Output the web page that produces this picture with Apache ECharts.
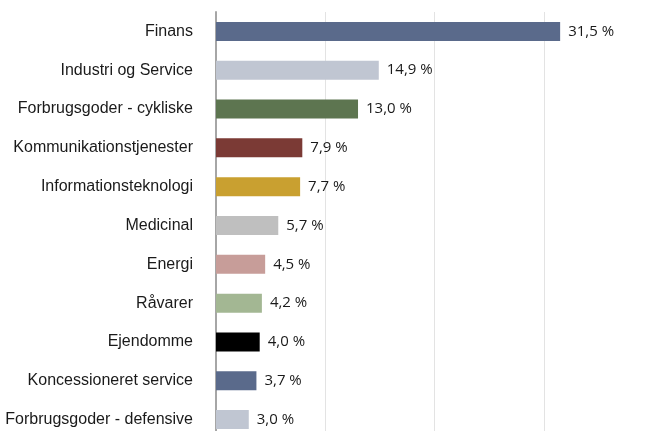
<!DOCTYPE html>
<html lang="da">
<head>
<meta charset="utf-8">
<title>Sektorfordeling</title>
<script src="https://cdn.jsdelivr.net/npm/echarts@6/dist/echarts.min.js"></script>
<style>
html,body{margin:0;padding:0;background:#fff;}
#chart{width:651px;height:431px;}
</style>
</head>
<body>
<div id="chart"></div>
<script>
// sektorer (top til bund) og vægte i %
var sectors = ['Finans','Industri og Service','Forbrugsgoder - cykliske','Kommunikationstjenester','Informationsteknologi','Medicinal','Energi','Råvarer','Ejendomme','Koncessioneret service','Forbrugsgoder - defensive'];
var weights = [31.5,14.9,13.0,7.9,7.7,5.7,4.5,4.2,4.0,3.7,3.0];
var colors = ['#5a6a8b','#c0c6d2','#5d7550','#7b3a35','#c9a030','#bfbfbf','#c79d99','#a3b793','#000000','#5a6a8b','#c0c6d2'];

var chart = echarts.init(document.getElementById('chart'));
chart.setOption({
    animation: false,
    // plotområdet går lidt ud over kanten til højre og nederst
    grid: {left: 216, top: 12, width: 437, height: 427, outerBoundsMode: 'none'},
    xAxis: {
        type: 'value',
        min: 0,
        max: 40,
        interval: 10,
        axisLine: {show: false},
        axisTick: {show: false},
        axisLabel: {show: false},
        splitLine: {lineStyle: {color: '#e3e3e3', width: 1}}
    },
    yAxis: {
        type: 'category',
        inverse: true,
        data: sectors,
        axisTick: {show: false},
        axisLine: {lineStyle: {color: '#a6a6a6', width: 2}},
        axisLabel: {
            margin: 23,
            color: '#1a1a1a',
            fontFamily: 'Liberation Sans, Arial, sans-serif',
            fontSize: 16
        }
    },
    series: [{
        type: 'bar',
        barWidth: 19,
        data: weights.map(function (v, i) {
            return {value: v, itemStyle: {color: colors[i]}};
        }),
        label: {
            show: true,
            position: 'right',
            distance: 8,
            color: '#1a1a1a',
            fontFamily: 'Open Sans, sans-serif',
            fontSize: 15,
            formatter: function (p) {
                return p.value.toFixed(1).replace('.', ',') + ' %';
            }
        }
    }]
});
</script>
</body>
</html>
